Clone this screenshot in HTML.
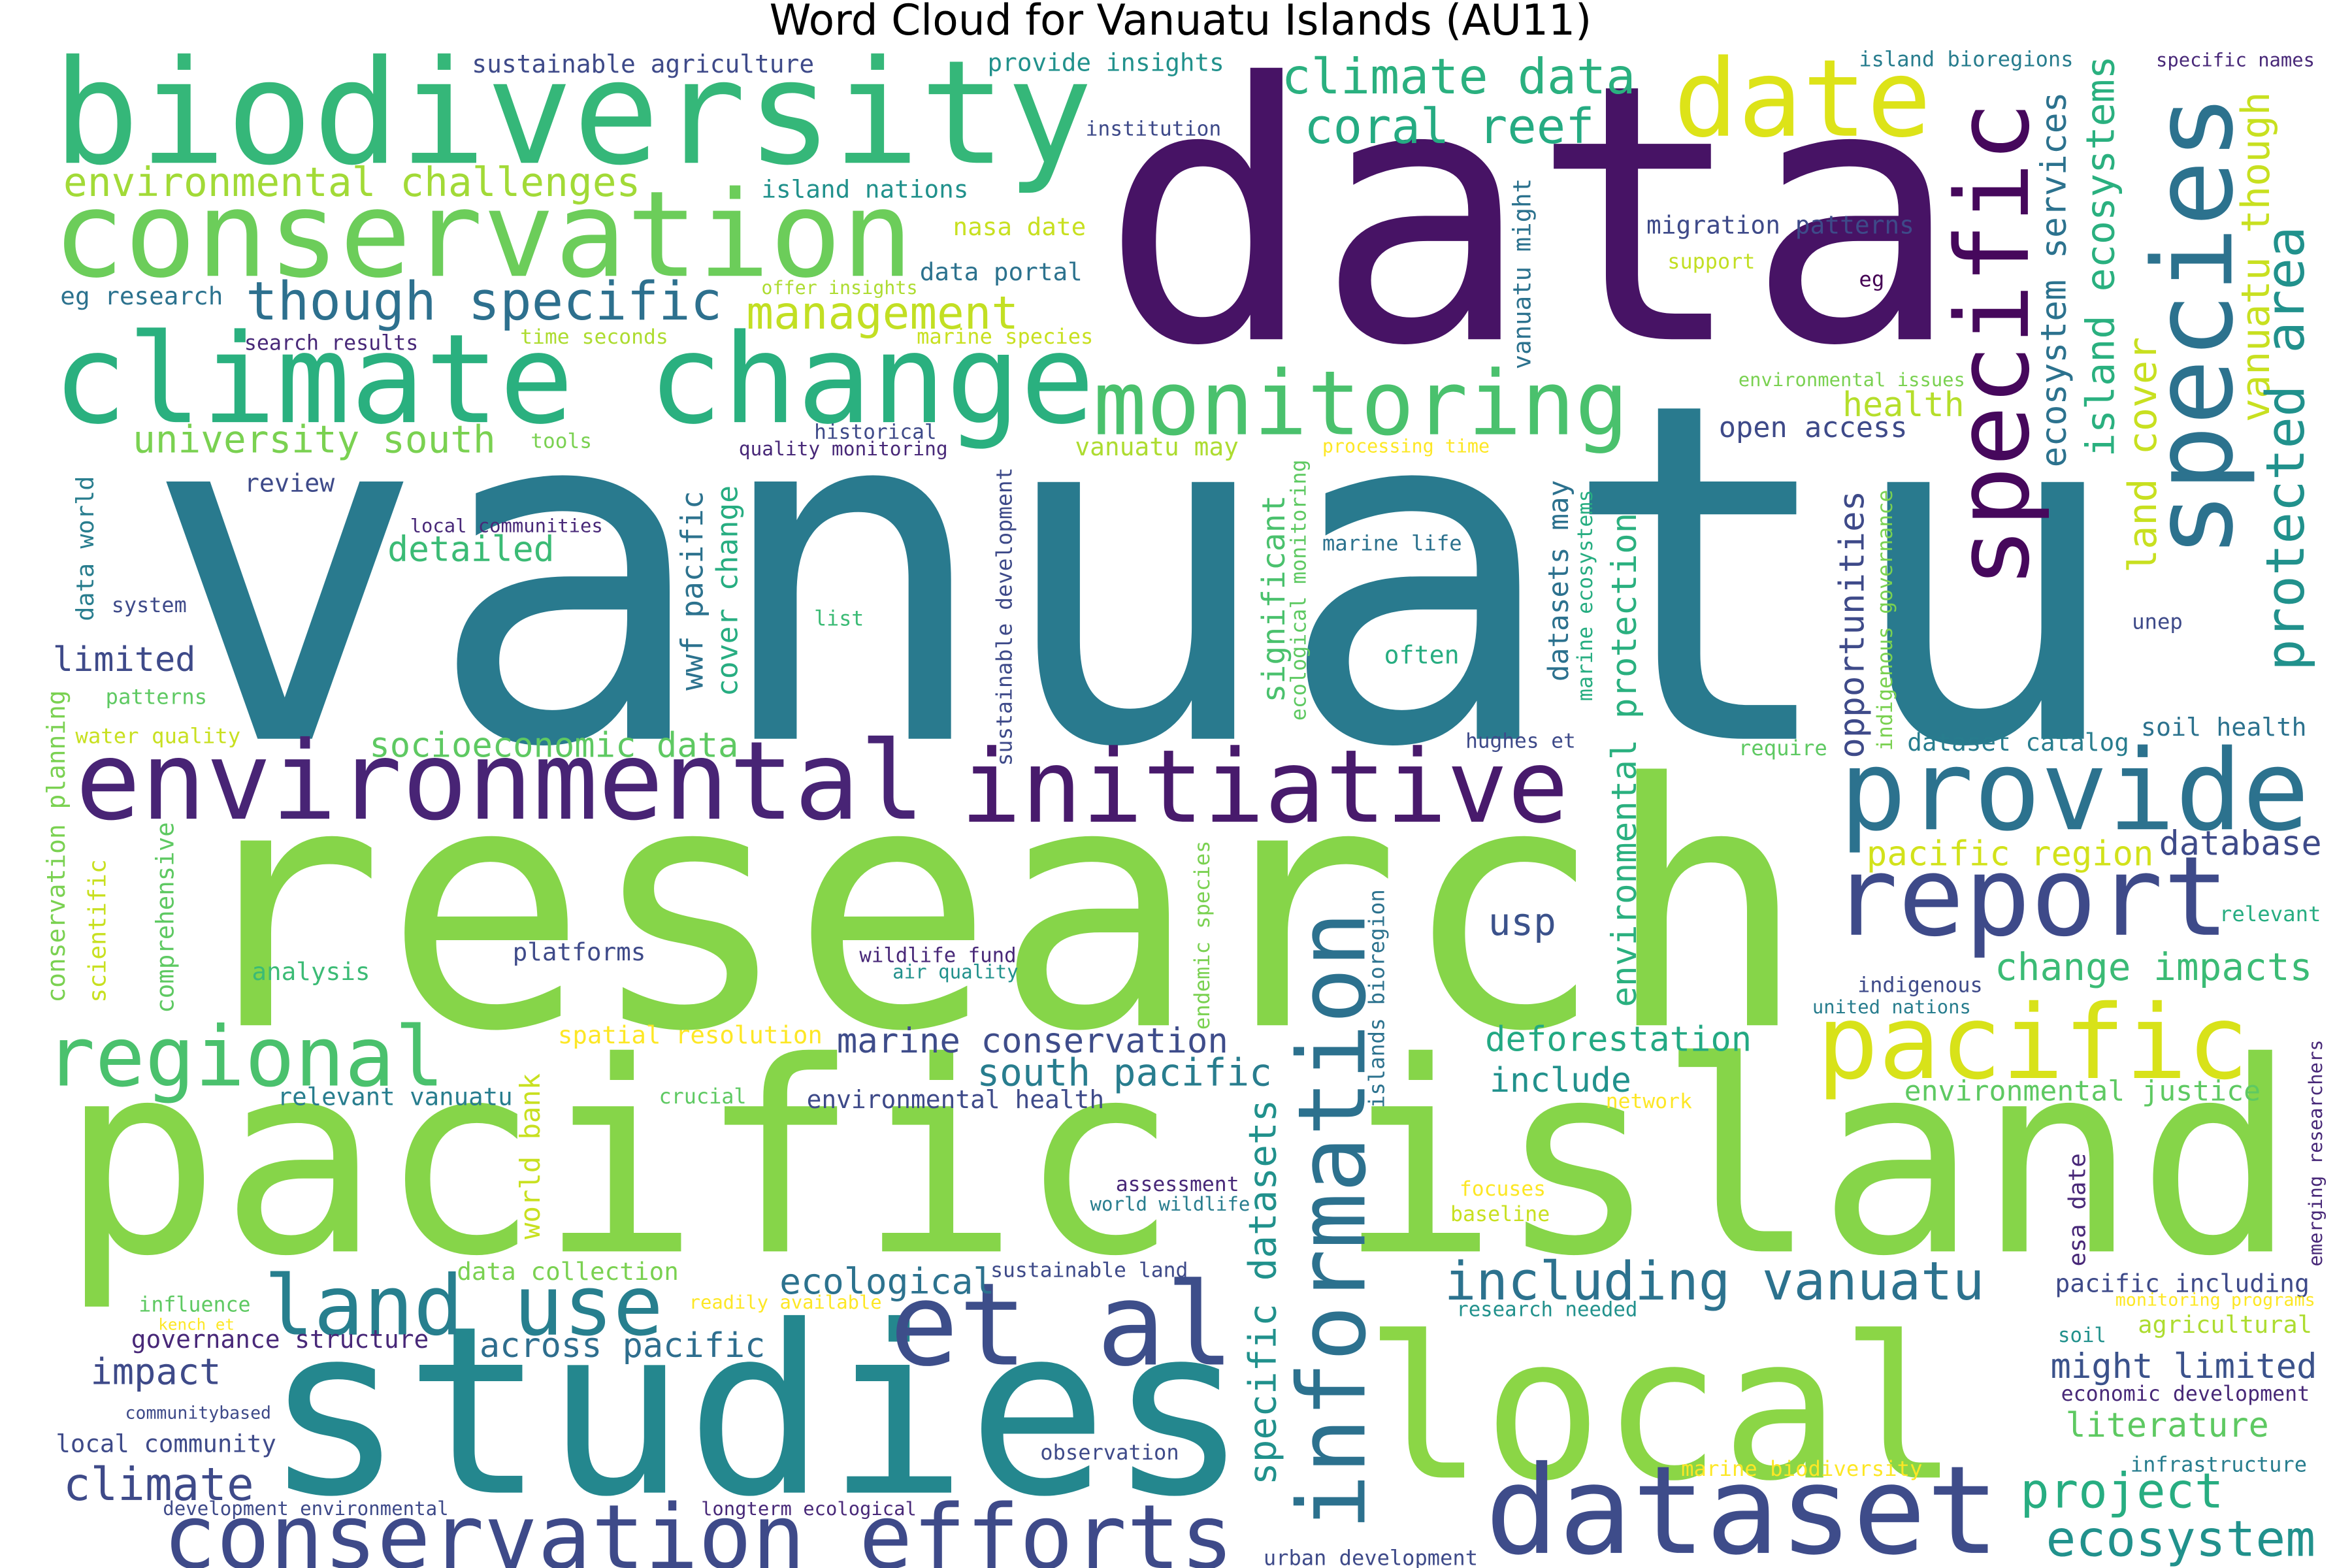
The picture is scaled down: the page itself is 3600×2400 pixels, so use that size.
<!DOCTYPE html>
<html>
<head>
<meta charset="utf-8">
<title>Word Cloud for Vanuatu Islands (AU11)</title>
<style>
html,body{margin:0;padding:0;background:#fff;}
svg{display:block;}
.w{font-family:"DejaVu Sans Mono","Liberation Mono",monospace;}
</style>
</head>
<body>
<svg id="cloud" xmlns="http://www.w3.org/2000/svg" width="3600" height="2400" viewBox="0 0 1560 1040">
<rect width="1560" height="1040" fill="#ffffff"/>
<text x="783" y="23" text-anchor="middle" font-family="DejaVu Sans, Liberation Sans, sans-serif" font-size="28" fill="#000">Word Cloud for Vanuatu Islands (AU11)</text>
<g id="words"></g>
</svg>
<script>
// word, font size, color, x, baseline y, vertical flag
const words = [
["vanuatu",312,"#297a8e",95,490,0],
["data",237,"#471365",730,225,0],
["research",224,"#86d549",120,680,0],
["pacific island",176,"#86d549",40,830,0],
["biodiversity",95.5,"#35b779",35,108,0],
["conservation",79,"#6ccd5a",35,183,0],
["climate change",82,"#2ab07f",35,280,0],
["environmental",72,"#482475",50,543,0],
["initiative",67,"#481a6c",637,545,0],
["provide",74,"#2c728e",1220,550,0],
["report",73,"#3e4a89",1215,620,0],
["pacific",68,"#d8e219",1205,715,0],
["local",131,"#8bd646",905,980,0],
["studies",155,"#24878e",175,990,0],
["dataset",81,"#3e4c8a",985,1030,0],
["et al",76,"#3d4e8a",590,905,0],
["information",62,"#2c718e",905,1015,1],
["conservation efforts",59,"#3e4a89",108,1040,0],
["land use",55,"#277f8e",175,885,0],
["regional",55,"#4ac16d",30,720,0],
["monitoring",59,"#4ac16d",725,288,0],
["date",71,"#dde318",1110,90,0],
["specific",67,"#46085c",1345,390,1],
["species",73,"#2c728e",1480,370,1],
["climate data",32.5,"#2ab07f",850,62,0],
["coral reef",32,"#25ab82",865,95,0],
["though specific",35,"#2d708e",163,212,0],
["management",30,"#c2df23",495,218,0],
["environmental challenges",26.5,"#a2da37",42,130,0],
["university south",25,"#7ad151",88,300,0],
["socioeconomic data",22.6,"#5ec962",245,502,0],
["detailed",23,"#3bbb75",257,372,0],
["limited",22.5,"#3e4a89",35,445,0],
["across pacific",22.5,"#2e6e8e",318,900,0],
["impact",24,"#3e4a89",60,918,0],
["climate",30,"#3e4a89",42,995,0],
["marine conservation",22.7,"#3e4c8a",555,698,0],
["south pacific",25,"#287d8e",648,720,0],
["ecological",23.7,"#2c728e",517,858,0],
["including vanuatu",35,"#2c728e",958,862,0],
["deforestation",22.6,"#23a983",985,697,0],
["include",22.3,"#21918c",988,724,0],
["usp",25,"#3b528b",987,620,0],
["change impacts",25,"#3bbb75",1323,650,0],
["pacific region",22.6,"#d2e21b",1238,574,0],
["database",22.4,"#3e4a89",1432,567,0],
["project",32,"#27ad81",1340,1000,0],
["ecosystem",33,"#21918c",1357,1032,0],
["literature",22.4,"#5ec962",1370,953,0],
["might limited",22.6,"#3b528b",1360,914,0],
["agricultural",16,"#addc30",1418,884,0],
["pacific including",16.5,"#3e4a89",1363,857,0],
["environmental justice",18.7,"#5ec962",1263,730,0],
["soil health",16.6,"#2c728e",1420,488,0],
["dataset catalog",16.3,"#287d8e",1265,498,0],
["health",22.4,"#b5de2b",1222,276,0],
["open access",18.9,"#3e4a89",1140,290,0],
["migration patterns",16.4,"#3e4a89",1092,155,0],
["support",13.8,"#c2df23",1106,178,0],
["eg",14,"#440154",1233,190,0],
["island bioregions",13.9,"#287d8e",1233,44,0],
["specific names",12.5,"#482878",1430,44,0],
["provide insights",16.3,"#21918c",655,47,0],
["sustainable agriculture",16.4,"#3e4a89",313,48,0],
["institution",13.6,"#3e4a89",720,90,0],
["island nations",16.3,"#21918c",505,131,0],
["nasa date",16.3,"#c8e020",632,156,0],
["data portal",16.3,"#2c728e",610,186,0],
["offer insights",12.3,"#addc30",505,195,0],
["eg research",16.3,"#2c728e",40,202,0],
["search results",13.7,"#482878",162,232,0],
["time seconds",13.6,"#addc30",345,228,0],
["marine species",13.9,"#c8e020",608,228,0],
["historical",13.5,"#3e4a89",540,291,0],
["quality monitoring",12.8,"#482878",490,302,0],
["tools",13.5,"#7ad151",352,297,0],
["vanuatu may",16.4,"#addc30",713,302,0],
["processing time",12.3,"#fde725",877,300,0],
["review",16.6,"#3e4a89",162,326,0],
["local communities",12.5,"#482878",272,353,0],
["system",13.8,"#3e4a89",74,406,0],
["patterns",14,"#5ec962",70,467,0],
["water quality",14,"#c8e020",50,493,0],
["list",13.7,"#3bbb75",540,415,0],
["marine life",14,"#2c728e",877,365,0],
["often",16.6,"#27ad81",918,440,0],
["hughes et",13.5,"#3e4a89",972,496,0],
["require",14,"#5ec962",1153,501,0],
["unep",14,"#3e4a89",1414,417,0],
["environmental issues",12.5,"#7ad151",1153,256,0],
["relevant",14,"#27ad81",1472,611,0],
["indigenous",13.8,"#3e4a89",1232,658,0],
["united nations",12.5,"#287d8e",1202,672,0],
["platforms",16.3,"#3e4a89",340,637,0],
["analysis",16.3,"#3bbb75",167,650,0],
["wildlife fund",13.3,"#482878",570,638,0],
["air quality",12.6,"#21918c",592,649,0],
["spatial resolution",16.2,"#fde725",370,692,0],
["relevant vanuatu",16.2,"#287d8e",184,733,0],
["crucial",13.8,"#5ec962",437,732,0],
["environmental health",16.4,"#3e4a89",535,735,0],
["network",13.6,"#fde725",1065,735,0],
["assessment",13.6,"#482878",740,790,0],
["world wildlife",12.6,"#287d8e",723,803,0],
["focuses",13.6,"#fde725",968,793,0],
["baseline",13.7,"#c8e020",962,810,0],
["data collection",16.3,"#7ad151",303,849,0],
["sustainable land",13.6,"#3e4a89",657,847,0],
["influence",13.7,"#5ec962",92,870,0],
["kench et",10.5,"#fde725",105,882,0],
["readily available",12.5,"#fde725",457,868,0],
["governance structure",16.4,"#482878",87,894,0],
["research needed",13.3,"#21918c",966,873,0],
["monitoring programs",11.6,"#fde725",1403,866,0],
["soil",13.3,"#21918c",1365,890,0],
["economic development",13.7,"#482878",1367,929,0],
["communitybased",11.5,"#3e4a89",83,941,0],
["local community",16.2,"#3e4a89",37,963,0],
["observation",13.9,"#3e4a89",690,968,0],
["infrastructure",13.9,"#287d8e",1413,976,0],
["marine biodiversity",14,"#fde725",1115,979,0],
["development environmental",12.6,"#3e4a89",108,1005,0],
["longterm ecological",12.5,"#482878",465,1005,0],
["urban development",13.9,"#3e4a89",838,1038,0],
["data world",16,"#287d8e",62,412,1],
["conservation planning",16.4,"#7ad151",43,665,1],
["scientific",15.8,"#c8e020",70,665,1],
["comprehensive",16.2,"#5ec962",115,672,1],
["world bank",18.3,"#c8e020",358,822,1],
["wwf pacific",20,"#2c728e",466,458,1],
["cover change",19.4,"#27ad81",489,462,1],
["sustainable development",14.3,"#3e4a89",671,508,1],
["significant",20.8,"#4ac16d",852,466,1],
["ecological monitoring",13.7,"#5ec962",866,478,1],
["vanuatu might",16.2,"#2c728e",1015,245,1],
["datasets may",18.5,"#2c718e",1040,452,1],
["marine ecosystems",13.7,"#27ad81",1056,465,1],
["environmental protection",22.7,"#2ab07f",1085,668,1],
["opportunities",22.7,"#3e4a89",1236,503,1],
["indigenous governance",13.7,"#7ad151",1255,498,1],
["land cover",26,"#c8e020",1430,380,1],
["ecosystem services",23,"#2c728e",1370,310,1],
["island ecosystems",26,"#2ab07f",1402,303,1],
["vanuatu though",26,"#c8e020",1505,280,1],
["protected area",35,"#21918c",1528,445,1],
["specific datasets",25,"#21918c",846,985,1],
["endemic species",13.9,"#7ad151",802,683,1],
["islands bioregion",14.2,"#2c728e",918,735,1],
["esa date",15.6,"#482878",1383,840,1],
["emerging researchers",12.5,"#482878",1540,840,1]
];
const g = document.getElementById('words');
const NS = "http://www.w3.org/2000/svg";
words.forEach(function(w){
  const t = document.createElementNS(NS,'text');
  t.setAttribute('class','w');
  t.setAttribute('x', w[3]);
  t.setAttribute('y', w[4]);
  t.setAttribute('font-size', w[1]);
  t.setAttribute('fill', w[2]);
  if (w[5]) t.setAttribute('transform','rotate(-90 '+w[3]+' '+w[4]+')');
  
  
  t.textContent = w[0];
  g.appendChild(t);
});
</script>
</body>
</html>
